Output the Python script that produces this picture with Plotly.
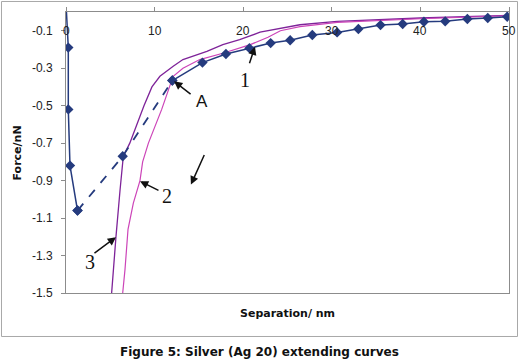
import plotly.graph_objects as go

# ---- data ----
approach_x = [0.05, 0.26, 0.26, 0.45, 1.3]
approach_y = [0.0, -0.19, -0.52, -0.82, -1.06]

gap_x = [1.3, 6.4, 12.0]
gap_y = [-1.06, -0.77, -0.366]

curve1_x = [12.0, 15.4, 18.05, 20.7, 23.1, 25.3, 27.8, 30.6, 33.0, 35.5, 38.0, 40.4, 42.8, 45.3, 47.6, 49.8]
curve1_y = [-0.366, -0.27, -0.224, -0.193, -0.166, -0.151, -0.123, -0.109, -0.091, -0.07, -0.064, -0.052, -0.05, -0.037, -0.032, -0.025]

curve3_x = [5.15, 5.34, 5.64, 6.1, 6.47, 7.2, 8.0, 8.8, 9.7, 10.6, 12.1, 13.2, 15.9, 17.7, 19.6, 21.9, 26.4, 30.6, 40.0, 50.0]
curve3_y = [-1.5, -1.374, -1.2, -0.95, -0.77, -0.7, -0.6, -0.5, -0.4, -0.343, -0.29, -0.254, -0.21, -0.174, -0.148, -0.108, -0.068, -0.05, -0.032, -0.018]

curve2_x = [6.4, 6.66, 7.0, 7.6, 8.35, 8.65, 9.3, 10.8, 11.7, 12.1, 13.2, 15.1, 17.8, 20.8, 22.8, 24.2, 26.4, 30.6, 40.0, 50.0]
curve2_y = [-1.5, -1.374, -1.16, -1.02, -0.9, -0.8, -0.7, -0.52, -0.397, -0.343, -0.30, -0.254, -0.219, -0.174, -0.135, -0.1, -0.078, -0.055, -0.036, -0.02]

x_ticks = [0, 10, 20, 30, 40, 50]
y_ticks = [-0.1, -0.3, -0.5, -0.7, -0.9, -1.1, -1.3, -1.5]
y_ticktext = ["-0.1", "-0.3", "-0.5", "-0.7", "-0.9", "-1.1", "-1.3", "-1.5"]

# arrows: (label, head_x, head_y, tail_dx_px, tail_dy_px)
arrows = [
    ("1", 21.33, -0.185, -6, 18),
    ("A", 12.2, -0.37, 18, 14),
    ("2", 8.35, -0.903, 20, 10),
    ("3", 5.64, -1.202, -23, 17),
    ("", 14.1, -0.921, 14, -31),
]
# labels: (text, x, y, serif?)
labels = [
    ("1", 20.2, -0.361, True),
    ("A", 15.3, -0.477, False),
    ("2", 11.37, -0.983, True),
    ("3", 2.7, -1.337, True),
]

BLUE = "#253B7E"
C3 = "#7E2399"
C2 = "#CC44B8"

fig = go.Figure()
fig.add_trace(go.Scatter(x=curve3_x, y=curve3_y, mode="lines",
                         line=dict(color=C3, width=1.3), showlegend=False))
fig.add_trace(go.Scatter(x=curve2_x, y=curve2_y, mode="lines",
                         line=dict(color=C2, width=1.2), showlegend=False))
fig.add_trace(go.Scatter(x=approach_x, y=approach_y, mode="lines",
                         line=dict(color=BLUE, width=1.5), showlegend=False))
fig.add_trace(go.Scatter(x=approach_x[1:], y=approach_y[1:], mode="markers",
                         marker=dict(symbol="diamond", size=8, color=BLUE),
                         showlegend=False))
fig.add_trace(go.Scatter(x=gap_x, y=gap_y, mode="lines+markers",
                         line=dict(color=BLUE, width=1.8, dash="dash"),
                         marker=dict(symbol="diamond", size=8, color=BLUE),
                         showlegend=False))
fig.add_trace(go.Scatter(x=curve1_x, y=curve1_y, mode="lines+markers",
                         line=dict(color=BLUE, width=1.5),
                         marker=dict(symbol="diamond", size=8, color=BLUE),
                         showlegend=False))

annotations = []
for text, hx, hy, dx, dy in arrows:
    annotations.append(dict(x=hx, y=hy, xref="x", yref="y", ax=dx, ay=dy, text="",
                            showarrow=True, arrowhead=2, arrowsize=1.1, arrowwidth=1.5,
                            arrowcolor="#111111"))
for text, lx, ly, serif in labels:
    annotations.append(dict(x=lx, y=ly, xref="x", yref="y", text=text, showarrow=False,
                            font=dict(family="Liberation Serif" if serif else "Liberation Sans",
                                      size=20 if serif else 17, color="#111111")))

# x tick labels sit just below the top (y = 0) axis line, inside the plot
for v in x_ticks:
    annotations.append(dict(x=v, y=0.932, xref="x", yref="paper", text=str(v), showarrow=False,
                            xanchor="center", yanchor="middle",
                            font=dict(family="Liberation Sans", size=12, color="#222222")))

# axis titles and caption
annotations.append(dict(x=0.5, y=-0.0747, xref="paper", yref="paper", text="<b>Separation/ nm</b>",
                        showarrow=False, xanchor="center", yanchor="middle",
                        font=dict(family="DejaVu Sans", size=11, color="#111111")))
annotations.append(dict(x=-0.1084, y=0.5, xref="paper", yref="paper", text="<b>Force/nN</b>",
                        showarrow=False, textangle=-90, xanchor="center", yanchor="middle",
                        font=dict(family="DejaVu Sans", size=11, color="#111111")))
annotations.append(dict(x=0.4357, y=-0.21, xref="paper", yref="paper",
                        text="<b>Figure 5: Silver (Ag 20) extending curves</b>",
                        showarrow=False, xanchor="center", yanchor="middle",
                        font=dict(family="DejaVu Sans", size=12, color="#111111")))

fig.update_layout(
    width=521, height=361,
    margin=dict(l=66, r=12, t=12, b=68, autoexpand=False),
    paper_bgcolor="white", plot_bgcolor="white",
    annotations=annotations,
    shapes=[dict(type="rect", xref="paper", yref="paper",
                 x0=-0.1456, x1=1.0192, y0=-0.1548, y1=1.0374,
                 line=dict(color="#A8A8A8", width=1))],
    xaxis=dict(range=[0, 50], side="top", tickvals=x_ticks, showticklabels=False,
               automargin=False,
               showgrid=False, zeroline=False, showline=True, linecolor="#8C8C8C",
               linewidth=1, mirror=True, ticks="outside", ticklen=4, tickcolor="#8C8C8C"),
    yaxis=dict(range=[-1.5, 0], tickvals=y_ticks, ticktext=y_ticktext,
               automargin=False,
               showgrid=False, zeroline=False, showline=True, linecolor="#8C8C8C",
               linewidth=1, mirror=True, ticks="outside", ticklen=4, tickcolor="#8C8C8C",
               ticklabelstandoff=6,
               tickfont=dict(family="Liberation Sans", size=12, color="#222222")),
)

fig.write_html("out.html", config={"displayModeBar": False},
               post_script="document.body.style.margin='0';document.body.style.padding='0';")
